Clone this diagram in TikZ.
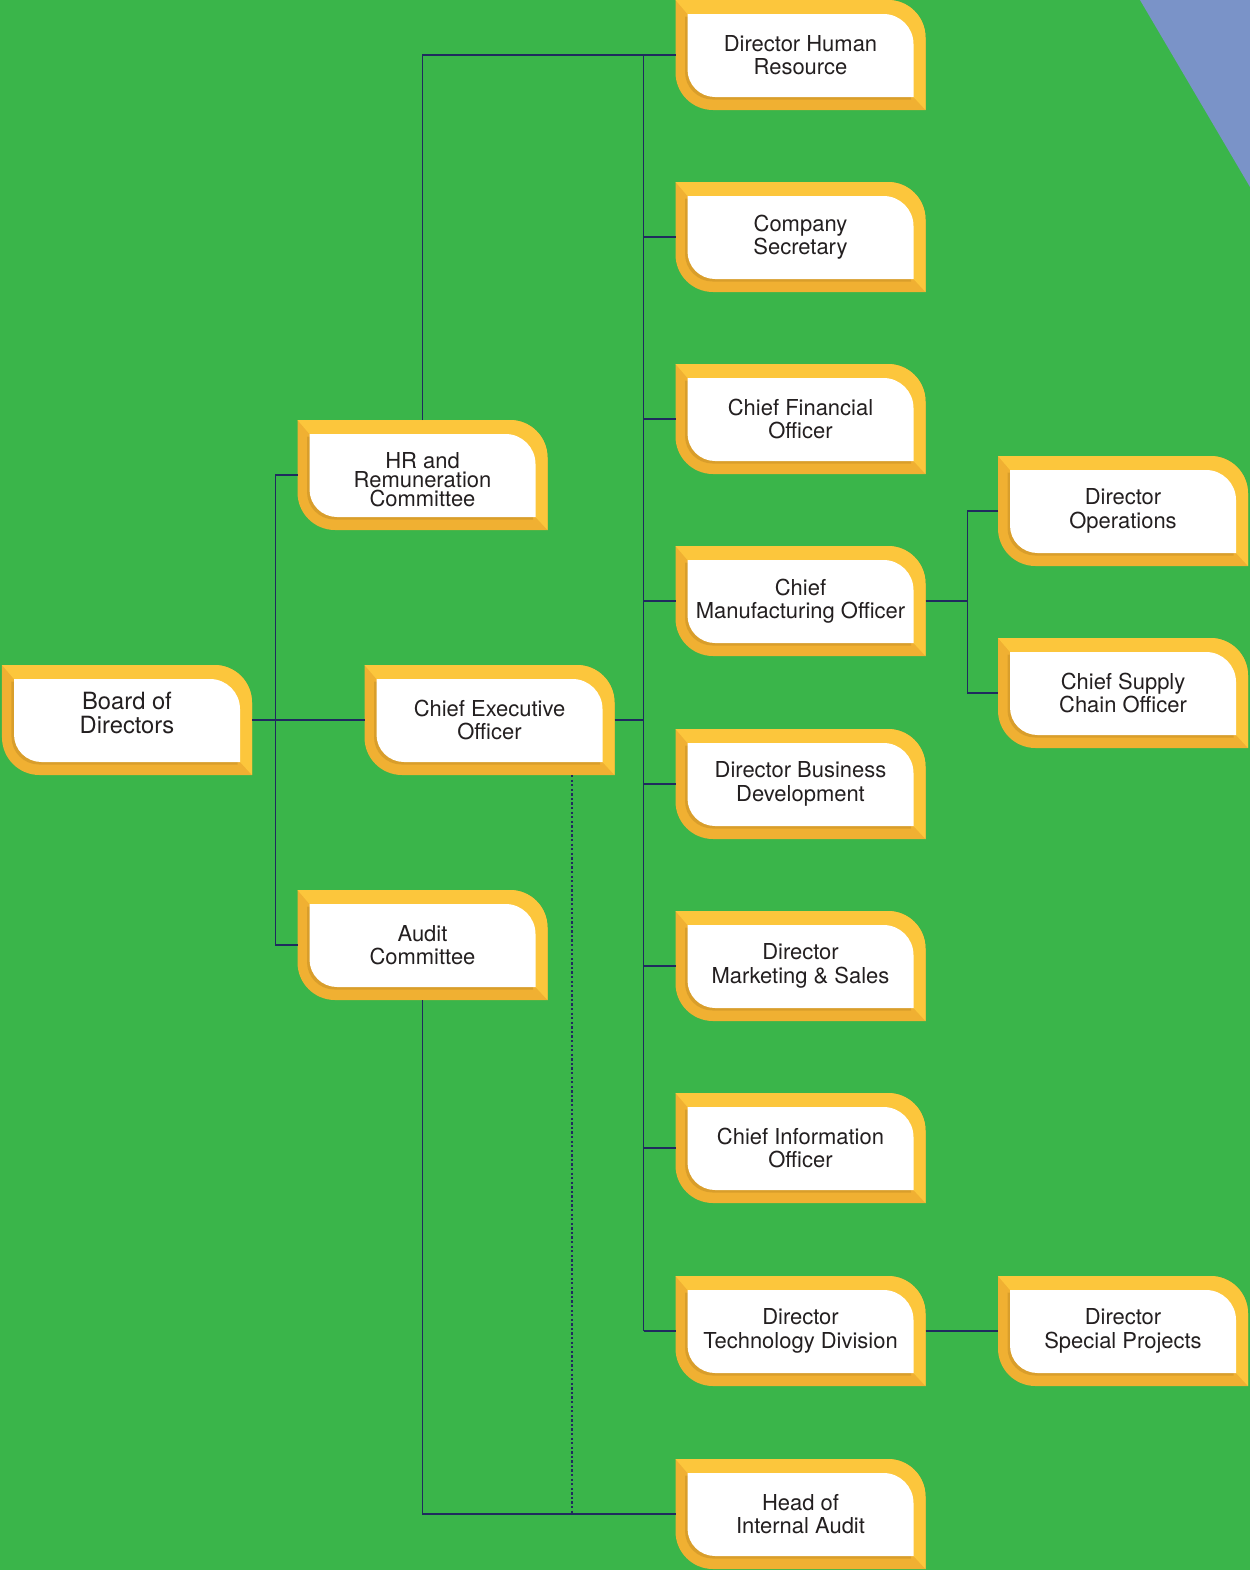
\documentclass[tikz,border=0pt]{standalone}
\usepackage{fontspec}
\setmainfont{TeX Gyre Heros}
\usetikzlibrary{positioning,calc,backgrounds}
\definecolor{field}  {HTML}{3AB54A}
\definecolor{sky300} {HTML}{7A93C8}
\definecolor{gold400}{HTML}{FCC63C}
\definecolor{gold600}{HTML}{F0B032}
\definecolor{gold800}{HTML}{B07F1E}
\definecolor{navy700}{HTML}{1F2B5E}
\definecolor{ink}    {HTML}{231F20}
\newcommand{\boxfont}{\fontsize{12.5}{13.4}\selectfont}
\newcommand{\boardfont}{\fontsize{13.5}{14.2}\selectfont}
\newcommand{\tightfont}{\fontsize{12.5}{10.8}\selectfont}
\newcommand{\lift}[2]{\raisebox{#1}[\height][\depth]{\parbox{4.5cm}{\centering #2}}}
% frame and card of one box, around its centre (box is 5cm x 2.2cm)
\newcommand{\frameshape}{(-2.5,-0.35) -- (-2.5,1.1) -- (1.75,1.1)
  arc[start angle=90,end angle=0,radius=0.75] -- (2.5,-1.1) -- (-1.75,-1.1)
  arc[start angle=270,end angle=180,radius=0.75] -- cycle}
\newcommand{\cardshape}{(-2.26,-0.29) -- (-2.26,0.82) -- (1.66,0.82)
  arc[start angle=90,end angle=0,radius=0.6] -- (2.26,-0.84) -- (-1.71,-0.84)
  arc[start angle=270,end angle=180,radius=0.55] -- cycle}
\newcommand{\orgframe}[1]{%
  \begin{scope}[shift={(#1.center)}]
    \begin{scope}
      \clip \frameshape;
      \fill[gold600] (-2.6,-1.2) rectangle (2.6,1.2);
      \fill[gold400] (-2.5,1.1) -- (-2.5,1.2) -- (2.6,1.2) -- (2.6,-1.1)
        -- (2.5,-1.1) -- (2.26,-0.84) -- (-2.26,0.82) -- cycle;
    \end{scope}
    \fill[gold800, opacity=0.35, shift={(-0.05,-0.05)}] \cardshape;
    \fill[white] \cardshape;
  \end{scope}}
\tikzset{
  orgbox/.style ={minimum width=5cm, minimum height=2.2cm, inner sep=0pt,
                  outer sep=0pt, align=center, text=ink, font=\boxfont},
  link/.style   ={draw=navy700, line width=0.8pt},
  dotlink/.style={draw=navy700, line width=0.6pt, dash pattern=on 1.3pt off 1.3pt}
}
\begin{document}
\begin{tikzpicture}
\useasboundingbox (0,0) rectangle (25,-31.4);

\node[orgbox, font=\boardfont] (board) at (2.54,-14.4)
  {\lift{0.14cm}{Board of\\Directors}};
\node[orgbox, font=\tightfont] (hrrem) at (8.45,-9.5)
  {\lift{-0.1cm}{HR and\\Remuneration\\Committee}};
\node[orgbox] (ceo)   at (9.79,-14.4) {Chief Executive\\Officer};
\node[orgbox] (audit) at (8.45,-18.9) {Audit\\Committee};

\node[orgbox] (dirhr)   at (16.01,-1.10)  {Director Human\\Resource};
\node[orgbox] (cosec)   at (16.01,-4.74)  {Company\\Secretary};
\node[orgbox] (cfo)     at (16.01,-8.38)  {Chief Financial\\Officer};
\node[orgbox] (cmo)     at (16.01,-12.02) {Chief\\Manufacturing Officer};
\node[orgbox] (bizdev)  at (16.01,-15.68) {Director Business\\Development};
\node[orgbox] (sales)   at (16.01,-19.32) {Director\\Marketing \& Sales};
\node[orgbox] (cio)     at (16.01,-22.96) {Chief Information\\Officer};
\node[orgbox] (tech)    at (16.01,-26.62) {Director\\Technology Division};
\node[orgbox] (intaud)  at (16.01,-30.28) {Head of\\Internal Audit};

\node[orgbox] (ops)     at (22.46,-10.22) {Director\\Operations};
\node[orgbox] (supply)  at (22.46,-13.86) {Chief Supply\\Chain Officer};
\node[orgbox] (special) at (22.46,-26.62) {Director\\Special Projects};

% green field, blue corner and the box frames go behind the texts
\begin{scope}[on background layer]
  \fill[field] (0,0) rectangle (25,-31.4);
  \fill[sky300] (22.8,0) -- (25,0) -- (25,-3.74) -- cycle;
  \foreach \n in {board,hrrem,ceo,audit,dirhr,cosec,cfo,cmo,bizdev,sales,
                  cio,tech,intaud,ops,supply,special}
    {\orgframe{\n}}
\end{scope}

% board and its committees
\draw[link] (board.east) -- (ceo.west);
\draw[link] (hrrem.west) -- ++(-0.44,0) coordinate (cmte) |- (audit.west);
\draw[link] (hrrem.north) |- (dirhr.west);
\draw[link] (audit.south) |- (intaud.west);

% CEO and the officers under it
\draw[link] (ceo.east) -- ++(0.58,0) coordinate (spine);
\draw[link] (spine |- dirhr.west) -- (spine |- tech.west);
\foreach \n in {dirhr,cosec,cfo,cmo,bizdev,sales,cio,tech}
  \draw[link] (spine |- \n.west) -- (\n.west);
\coordinate (dots) at ([xshift=1.65cm]ceo.south);
\draw[dotlink] (dots) -- (dots |- intaud.west);

\draw[link] (cmo.east) -- ++(0.84,0) coordinate (fork);
\draw[link] (ops.west) -| (fork) |- (supply.west);
\draw[link] (tech.east) -- (special.west);
\end{tikzpicture}
\end{document}
